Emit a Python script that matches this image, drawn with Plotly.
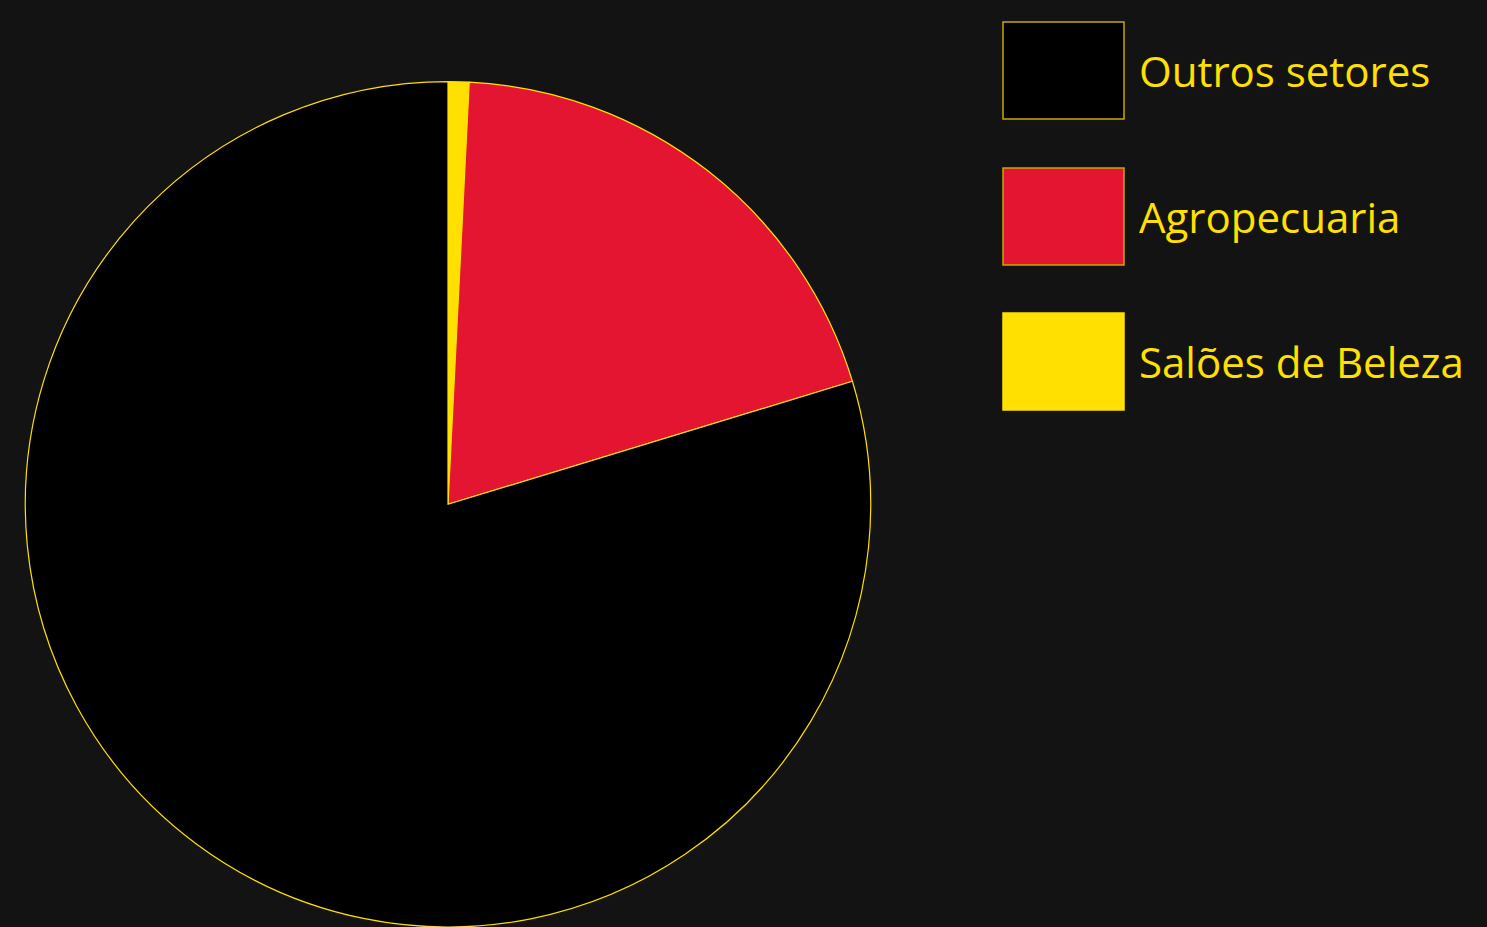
import plotly.graph_objects as go

# Data (clockwise from 12 o'clock)
labels = ["Salões de Beleza", "Agropecuaria", "Outros setores"]
values = [0.8, 19.5, 79.7]
colors = ["#FFE000", "#E31530", "#000000"]

# Legend order as shown
legend_order = ["Outros setores", "Agropecuaria", "Salões de Beleza"]

W, H = 1487, 927
YELLOW = "#FFE000"
BG = "#131313"

fig = go.Figure()
fig.add_trace(go.Pie(
    labels=labels,
    values=values,
    sort=False,
    direction="clockwise",
    rotation=0,
    marker=dict(colors=colors, line=dict(color=YELLOW, width=1.2)),
    textinfo="none",
    hoverinfo="label+percent",
    showlegend=False,
    domain=dict(x=[25 / W, 871 / W], y=[0, 0.912]),
))

# Custom legend with large swatches
box_tops = [22, 168, 313]
box_h = 97
for name, top in zip(legend_order, box_tops):
    col = colors[labels.index(name)]
    fig.add_shape(
        type="rect", xref="paper", yref="paper",
        x0=1003 / W, x1=1124 / W,
        y0=1 - (top + box_h) / H, y1=1 - top / H,
        fillcolor=col,
        line=dict(color="#C8A800" if col != YELLOW else YELLOW, width=1.5),
        layer="above",
    )
    fig.add_annotation(
        xref="paper", yref="paper",
        x=1137 / W, y=1 - (top + box_h / 2) / H,
        xanchor="left", yanchor="middle",
        text=name, showarrow=False,
        font=dict(family="Open Sans", size=42, color=YELLOW),
    )

fig.update_layout(
    width=W, height=H,
    margin=dict(l=0, r=0, t=0, b=0),
    paper_bgcolor=BG,
    plot_bgcolor=BG,
    showlegend=False,
)

fig.write_html("out.html")
